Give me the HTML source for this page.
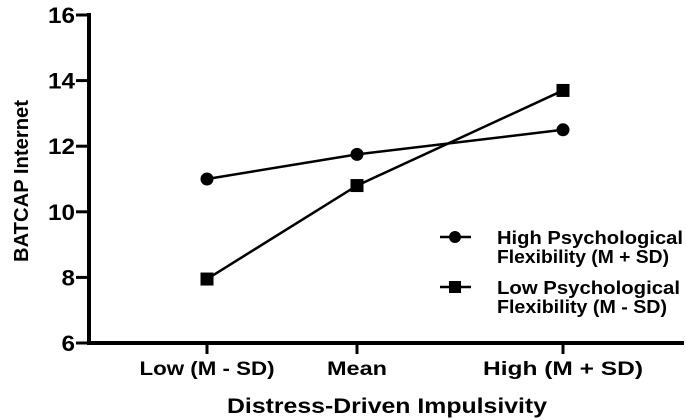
<!DOCTYPE html>
<html><head><meta charset="utf-8"><style>
body{margin:0;background:#fff;}
svg{display:block;font-family:"Liberation Sans",Arial,sans-serif;font-weight:bold;}
</style></head><body>
<svg id="chart" width="686" height="420"></svg>
<script>
const categories=["Low (M - SD)","Mean","High (M + SD)"];
const highFlex=[11.0,11.75,12.5];
const lowFlex=[7.95,10.8,13.7];
const yTicks=[6,8,10,12,14,16];
const svg=document.getElementById('chart');
const NS='http://www.w3.org/2000/svg';
const catX=[207,357,563];
const catW=[135,60,160];
function x(i){return catX[i];}
function y(v){return 343-(v-6)*32.8;}
function mk(t,a,parent){const e=document.createElementNS(NS,t);for(const k in a)e.setAttribute(k,a[k]);(parent||svg).appendChild(e);return e;}
let ya=mk('line',{x1:89,y1:y(16)-2,x2:89,y2:344,stroke:'#000','stroke-width':4});


let xa=mk('line',{x1:87,y1:343,x2:684,y2:343,stroke:'#000','stroke-width':4});


yTicks.forEach(t=>{
 const l=mk('line',{x1:76,y1:y(t),x2:89,y2:y(t),stroke:'#000','stroke-width':3});
 
 
 const tx=mk('text',{x:75,y:y(t)+8,'text-anchor':'end','font-size':22,textLength:String(t).length*13.5,lengthAdjust:'spacingAndGlyphs'});
 tx.textContent=t;
 
 
});
categories.forEach((c,i)=>{
 const l=mk('line',{x1:x(i),y1:343,x2:x(i),y2:354,stroke:'#000','stroke-width':3});
 
 
 const tx=mk('text',{x:x(i),y:375,'text-anchor':'middle','font-size':19,textLength:catW[i],lengthAdjust:'spacingAndGlyphs'});
 tx.textContent=c;
 
 
});
let xt=mk('text',{x:387,y:413,'text-anchor':'middle','font-size':21,textLength:320,lengthAdjust:'spacingAndGlyphs'});
xt.textContent='Distress-Driven Impulsivity';


let yt=mk('text',{x:0,y:0,'text-anchor':'middle','font-size':20,textLength:162,lengthAdjust:'spacingAndGlyphs',transform:'translate(28,181) rotate(-90)'});
yt.textContent='BATCAP Internet';


function series(vals,shape,name){
 const pts=vals.map((v,i)=>x(i)+','+y(v)).join(' ');
 const pl=mk('polyline',{points:pts,fill:'none',stroke:'#000','stroke-width':2.5});
 
 
 vals.forEach((v,i)=>{
  let m;
  if(shape==='circle')m=mk('circle',{cx:x(i),cy:y(v),r:6.5,fill:'#000'});
  else m=mk('rect',{x:x(i)-6.5,y:y(v)-6.5,width:13,height:13,fill:'#000'});
  
  
 });
}
series(highFlex,'circle','high-flexibility');
series(lowFlex,'square','low-flexibility');
function legend(yy,shape,l1,l2,w1,w2,name){
 const g=mk('g',{});
 
 
 mk('line',{x1:440,y1:yy,x2:471,y2:yy,stroke:'#000','stroke-width':2.5},g);
 if(shape==='circle')mk('circle',{cx:455,cy:yy,r:6,fill:'#000'},g);
 else mk('rect',{x:449,y:yy-6,width:12,height:12,fill:'#000'},g);
 const t1=mk('text',{x:497,y:yy+7,'font-size':18,textLength:w1,lengthAdjust:'spacingAndGlyphs'},g);t1.textContent=l1;
 const t2=mk('text',{x:497,y:yy+26,'font-size':18,textLength:w2,lengthAdjust:'spacingAndGlyphs'},g);t2.textContent=l2;
}
legend(237,'circle','High Psychological','Flexibility (M + SD)',186,172,'legend-high-flexibility');
legend(287,'square','Low Psychological','Flexibility (M - SD)',183,170,'legend-low-flexibility');
</script>
</body></html>
